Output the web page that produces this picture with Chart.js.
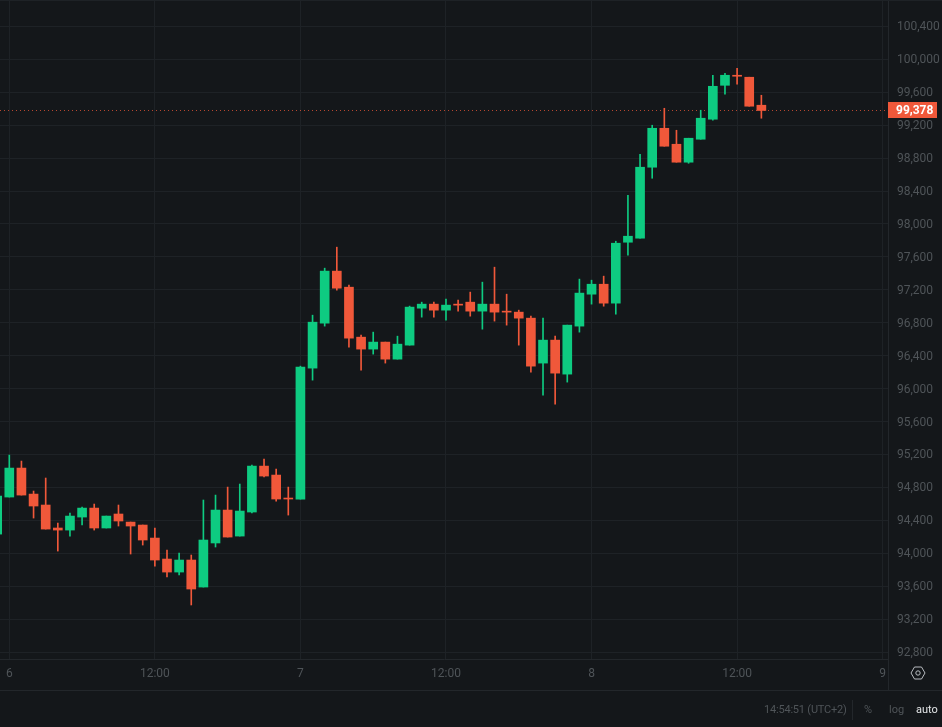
<!DOCTYPE html>
<html>
<head>
<meta charset="utf-8">
<title>Candles</title>
<script src="https://cdn.jsdelivr.net/npm/chart.js@4/dist/chart.umd.min.js"></script>
<style>
  html, body { margin: 0; padding: 0; background: #14171a; overflow: hidden; }
  #wrap { position: relative; width: 942px; height: 727px; font-family: Roboto, sans-serif; }
  #top-line { position: absolute; left: 0; top: 0; width: 942px; height: 1px; background: #1e2226; }
  #axis-sep { position: absolute; left: 888px; top: 659px; width: 1px; height: 31px; background: #23272b; }
  #bottom-line { position: absolute; left: 0; top: 690px; width: 942px; height: 1px; background: #23272b; }
  #status-sep { position: absolute; left: 852px; top: 700px; width: 1px; height: 20px; background: #23272b; }
  .status { position: absolute; top: 703px; font-size: 11px; line-height: 14px; color: #4f5458; white-space: nowrap; }
  #settings { position: absolute; left: 910px; top: 665px; }
</style>
</head>
<body>
<div id="wrap">
  <canvas id="chart" width="942" height="727"></canvas>
  <div id="top-line"></div>
  <div id="axis-sep"></div>
  <div id="bottom-line"></div>
  <div id="status-sep"></div>
  <div class="status" style="left:764px;letter-spacing:-0.2px">14:54:51 (UTC+2)</div>
  <div class="status" style="left:864px">%</div>
  <div class="status" style="left:889px">log</div>
  <div class="status" style="left:916px;color:#e4e6e8">auto</div>
  <svg id="settings" width="16" height="16" viewBox="0 0 16 16">
    <path d="M4.5 2 L11.5 2 L15 8 L11.5 14 L4.5 14 L1 8 Z" fill="none" stroke="#b8bcc0" stroke-width="1"/>
    <circle cx="8" cy="8" r="2.2" fill="none" stroke="#b8bcc0" stroke-width="1"/>
  </svg>
</div>

<script>
// hourly candles, first one is cut off by the left edge
const hours = [-1, 0, 1, 2, 3, 4, 5, 6, 7, 8, 9, 10, 11, 12, 13, 14, 15, 16, 17, 18, 19, 20, 21, 22, 23,
  24, 25, 26, 27, 28, 29, 30, 31, 32, 33, 34, 35, 36, 37, 38, 39, 40, 41, 42, 43, 44, 45, 46, 47,
  48, 49, 50, 51, 52, 53, 54, 55, 56, 57, 58, 59, 60, 61, 62];

const opens = [94233, 94683, 95035, 94719, 94586, 94307, 94282, 94440, 94549, 94307, 94477, 94379, 94343, 94185, 93930, 93772, 93918, 93590, 94125, 94525, 94209, 94501, 95059, 94950, 94671,
  94658, 96249, 96795, 97427, 97232, 96625, 96480, 96565, 96358, 96528, 96977, 97026, 96953, 97026, 97050, 96941, 97026, 96941, 96929, 96856, 96310, 96589, 96176, 96759,
  97147, 97268, 97038, 97778, 97827, 98689, 99162, 98968, 98750, 99029, 99272, 99684, 99806, 99782, 99442];

const highs = [94800, 95193, 95120, 94756, 94914, 94367, 94489, 94562, 94598, 94452, 94586, 94379, 94343, 94307, 94040, 94003, 93979, 94647, 94707, 94804, 94841, 95071, 95144, 95023, 94804,
  96273, 96892, 97463, 97718, 97257, 96650, 96686, 96565, 96637, 97002, 97050, 97050, 97087, 97075, 97172, 97293, 97475, 97147, 96953, 96880, 96856, 96637, 96771, 97330,
  97317, 97366, 97790, 98349, 98847, 99199, 99405, 99138, 99041, 99381, 99806, 99830, 99891, 99782, 99563];

const lows = [94200, 94683, 94707, 94428, 94294, 94027, 94209, 94343, 94282, 94307, 94331, 93991, 94100, 93845, 93712, 93736, 93372, 93590, 94076, 94197, 94209, 94489, 94926, 94634, 94464,
  94658, 96103, 96759, 97196, 96504, 96225, 96419, 96310, 96358, 96528, 96868, 96868, 96832, 96941, 96880, 96722, 96820, 96771, 96528, 96200, 95921, 95812, 96079, 96686,
  97026, 97001, 96904, 97620, 97827, 98555, 98944, 98750, 98737, 99029, 99260, 99575, 99697, 99430, 99284];

const closes = [94695, 95035, 94707, 94574, 94294, 94282, 94452, 94549, 94307, 94452, 94392, 94331, 94161, 93918, 93772, 93918, 93566, 94161, 94525, 94197, 94513, 95059, 94938, 94659, 94659,
  96261, 96807, 97427, 97220, 96613, 96480, 96565, 96358, 96540, 96990, 97026, 96953, 97014, 97014, 96941, 97026, 96929, 96929, 96856, 96273, 96589, 96188, 96771, 97160,
  97268, 97038, 97766, 97851, 98689, 99162, 98944, 98750, 99041, 99284, 99672, 99806, 99794, 99430, 99378];

const lastPrice = 99378;

const xTickHours = [0, 12, 24, 36, 48, 60, 72];
const xTickLabels = ["6", "12:00", "7", "12:00", "8", "12:00", "9"];
const yTicks = [92800, 93200, 93600, 94000, 94400, 94800, 95200, 95600, 96000, 96400, 96800, 97200,
  97600, 98000, 98400, 98800, 99200, 99600, 100000, 100400];

const UP = "#0ecb81";
const DOWN = "#f0583a";
const TICK_COLOR = "#4f5458";
const GRID_COLOR = "#1e2226";

const X_MIN = -0.767;
const X_MAX = 72.44;

const candleColors = closes.map((c, i) => (c >= opens[i] ? UP : DOWN));

// price box on the y axis, same red as the down candles
const priceTag = {
  id: "priceTag",
  afterDraw(chart) {
    const y = chart.scales.y.getPixelForValue(lastPrice);
    const c = chart.ctx;
    c.save();
    c.fillStyle = DOWN;
    c.fillRect(888, Math.round(y) - 8, 49, 16);
    c.fillStyle = "#ffffff";
    c.font = "bold 12px Roboto, sans-serif";
    c.textBaseline = "middle";
    c.fillText(lastPrice.toLocaleString("en-US"), 896, Math.round(y) + 0.5);
    c.restore();
  }
};

new Chart(document.getElementById("chart"), {
  type: "bar",
  plugins: [priceTag],
  data: {
    datasets: [
      {
        type: "line",
        data: [{ x: X_MIN, y: lastPrice }, { x: X_MAX, y: lastPrice }],
        borderColor: "rgba(240,88,58,0.75)",
        borderWidth: 1,
        borderDash: [1, 3],
        pointRadius: 0,
        order: 3
      },
      {
        // wicks
        data: hours.map((h, i) => ({ x: h, y: [lows[i], highs[i]] })),
        backgroundColor: candleColors,
        barThickness: 1,
        grouped: false,
        order: 2
      },
      {
        // bodies
        data: hours.map((h, i) => ({ x: h, y: [opens[i], closes[i]] })),
        backgroundColor: candleColors,
        barThickness: 9,
        grouped: false,
        order: 1
      }
    ]
  },
  options: {
    responsive: false,
    animation: false,
    layout: { autoPadding: false, padding: { left: 0, right: 0, top: 0, bottom: 37 } },
    plugins: { legend: { display: false }, tooltip: { enabled: false } },
    scales: {
      x: {
        type: "linear",
        min: X_MIN,
        max: X_MAX,
        offset: false,
        afterBuildTicks: scale => { scale.ticks = xTickHours.map(v => ({ value: v })); },
        afterFit: scale => { scale.height = 31; scale.paddingLeft = 0; scale.paddingRight = 0; },
        grid: { color: GRID_COLOR, drawTicks: false, offset: false },
        border: { color: "#23272b" },
        ticks: {
          color: TICK_COLOR,
          font: { family: "Roboto, sans-serif", size: 12 },
          padding: 8,
          maxRotation: 0,
          autoSkip: false,
          callback: (v, i) => xTickLabels[i]
        }
      },
      y: {
        position: "right",
        min: 92716,
        max: 100720,
        afterBuildTicks: scale => { scale.ticks = yTicks.map(v => ({ value: v })); },
        afterFit: scale => { scale.width = 54; scale.paddingTop = 0; scale.paddingBottom = 0; },
        grid: { color: GRID_COLOR, drawTicks: false },
        border: { color: "#23272b" },
        ticks: {
          color: TICK_COLOR,
          font: { family: "Roboto, sans-serif", size: 12 },
          padding: 9,
          labelOffset: 1,
          autoSkip: false,
          callback: v => v.toLocaleString("en-US")
        }
      }
    }
  }
});
</script>
</body>
</html>
